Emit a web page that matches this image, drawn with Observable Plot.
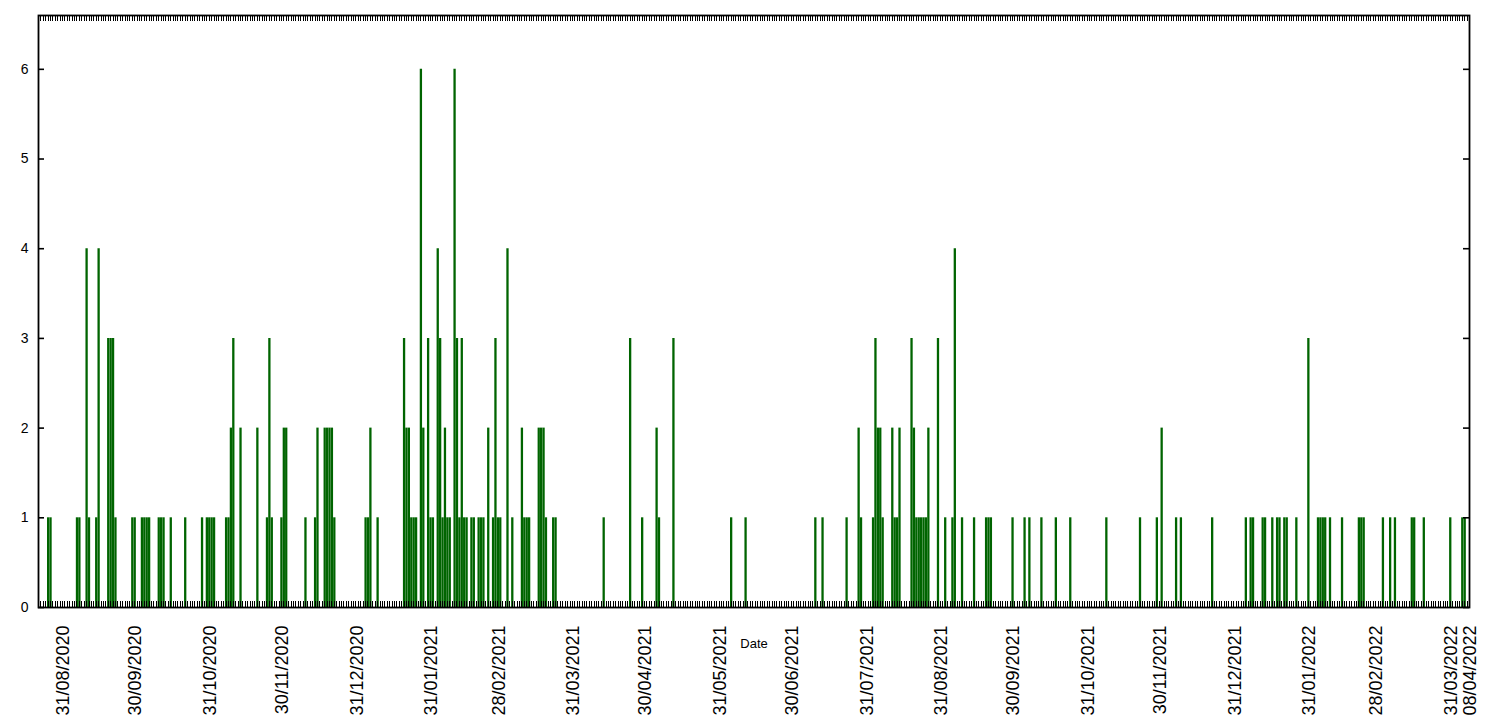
<!DOCTYPE html>
<html>
<head>
<meta charset="utf-8">
<script src="https://cdn.jsdelivr.net/npm/d3@7"></script>
<script src="https://cdn.jsdelivr.net/npm/@observablehq/plot@0.6"></script>
<style>
  html, body { margin: 0; padding: 0; background: #ffffff; }
  #chart svg { display: block; }
</style>
</head>
<body>
<div id="chart"></div>
<script>
// ---- data (daily counts; days not listed are zero) ----
const dates = [
  "2020-08-25","2020-08-26","2020-09-06","2020-09-07","2020-09-10","2020-09-11","2020-09-14","2020-09-15",
  "2020-09-19","2020-09-20","2020-09-21","2020-09-22","2020-09-29","2020-09-30","2020-10-03","2020-10-04",
  "2020-10-05","2020-10-06","2020-10-10","2020-10-11","2020-10-12","2020-10-15","2020-10-21","2020-10-28",
  "2020-10-30","2020-10-31","2020-11-01","2020-11-02","2020-11-07","2020-11-08","2020-11-09","2020-11-10",
  "2020-11-13","2020-11-20","2020-11-24","2020-11-25","2020-11-26","2020-11-30","2020-12-01","2020-12-02",
  "2020-12-10","2020-12-14","2020-12-15","2020-12-18","2020-12-19","2020-12-20","2020-12-21","2020-12-22",
  "2021-01-04","2021-01-05","2021-01-06","2021-01-09","2021-01-20","2021-01-21","2021-01-22","2021-01-23",
  "2021-01-24","2021-01-25","2021-01-27","2021-01-28","2021-01-30","2021-01-31","2021-02-01","2021-02-03",
  "2021-02-04","2021-02-05","2021-02-06","2021-02-07","2021-02-08","2021-02-10","2021-02-11","2021-02-12",
  "2021-02-13","2021-02-14","2021-02-15","2021-02-17","2021-02-18","2021-02-20","2021-02-21","2021-02-22",
  "2021-02-24","2021-02-26","2021-02-27","2021-02-28","2021-03-01","2021-03-04","2021-03-06","2021-03-10",
  "2021-03-11","2021-03-12","2021-03-13","2021-03-17","2021-03-18","2021-03-19","2021-03-20","2021-03-23",
  "2021-03-24","2021-04-13","2021-04-24","2021-04-29","2021-05-05","2021-05-06","2021-05-12","2021-06-05",
  "2021-06-11","2021-07-10","2021-07-13","2021-07-23","2021-07-28","2021-07-29","2021-08-03","2021-08-04",
  "2021-08-05","2021-08-06","2021-08-07","2021-08-11","2021-08-12","2021-08-13","2021-08-14","2021-08-19",
  "2021-08-20","2021-08-21","2021-08-22","2021-08-23","2021-08-24","2021-08-25","2021-08-26","2021-08-30",
  "2021-09-02","2021-09-05","2021-09-06","2021-09-09","2021-09-14","2021-09-19","2021-09-20","2021-09-21",
  "2021-09-30","2021-10-05","2021-10-07","2021-10-12","2021-10-18","2021-10-24","2021-11-08","2021-11-22",
  "2021-11-29","2021-12-01","2021-12-07","2021-12-09","2021-12-22","2022-01-05","2022-01-07","2022-01-08",
  "2022-01-12","2022-01-13","2022-01-16","2022-01-18","2022-01-19","2022-01-21","2022-01-22","2022-01-26",
  "2022-01-31","2022-02-04","2022-02-05","2022-02-06","2022-02-07","2022-02-09","2022-02-14","2022-02-21",
  "2022-02-22","2022-02-23","2022-03-03","2022-03-06","2022-03-08","2022-03-15","2022-03-16","2022-03-20",
  "2022-03-31","2022-04-05","2022-04-06"
];
const counts = [
  1,1,1,1,4,1,1,4,
  3,3,3,1,1,1,1,1,
  1,1,1,1,1,1,1,1,
  1,1,1,1,1,1,2,3,
  2,2,1,3,1,1,2,2,
  1,1,2,2,2,2,2,1,
  1,1,2,1,3,2,2,1,
  1,1,6,2,3,1,1,4,
  3,1,2,1,1,6,3,1,
  3,1,1,1,1,1,1,1,
  2,1,3,1,1,4,1,2,
  1,1,1,2,2,2,1,1,
  1,1,3,1,2,1,3,1,
  1,1,1,1,2,1,1,3,
  2,2,1,2,1,1,2,3,
  2,1,1,1,1,1,2,3,
  1,1,4,1,1,1,1,1,
  1,1,1,1,1,1,1,1,
  1,2,1,1,1,1,1,1,
  1,1,1,1,1,1,1,1,
  3,1,1,1,1,1,1,1,
  1,1,1,1,1,1,1,1,
  1,1,1
];
const xTickDates = [
  "2020-08-31","2020-09-30","2020-10-31","2020-11-30","2020-12-31","2021-01-31","2021-02-28",
  "2021-03-31","2021-04-30","2021-05-31","2021-06-30","2021-07-31","2021-08-31","2021-09-30",
  "2021-10-31","2021-11-30","2021-12-31","2022-01-31","2022-02-28","2022-03-31","2022-04-08"
];
const yTicks = [0, 1, 2, 3, 4, 5, 6];
const xStart = "2020-08-21";
const xEnd = "2022-04-08";
const yMax = 6.6;
const xLabel = "Date";

// ---- build ----
const parse = d3.utcParse("%Y-%m-%d");
const fmt = d3.utcFormat("%d/%m/%Y");
const data = dates.map((d, i) => ({date: parse(d), count: counts[i]}));
const allDays = d3.utcDay.range(parse(xStart), d3.utcDay.offset(parse(xEnd), 1));

const W = 1512, H = 720, mL = 38, mR = 43, mT = 15, mB = 113;
const innerW = W - mL - mR, innerH = H - mT - mB;
const tick = 6;

const chart = Plot.plot({
  width: W, height: H,
  marginLeft: mL, marginRight: mR, marginTop: mT, marginBottom: mB,
  style: {fontFamily: "'Liberation Sans', Arial, sans-serif", background: "#ffffff", color: "#000000"},
  x: {type: "utc", domain: [parse(xStart), parse(xEnd)]},
  y: {domain: [0, yMax]},
  marks: [
    Plot.ruleX(data, {x: "date", y1: 0, y2: "count", stroke: "#006400", strokeWidth: 2.3}),
    // daily minor ticks, bottom and top, pointing inward
    Plot.ruleX(allDays, {x: d => d, insetTop: innerH - tick, stroke: "#000", strokeWidth: 1, shapeRendering: "crispEdges"}),
    Plot.ruleX(allDays, {x: d => d, insetBottom: innerH - tick, stroke: "#000", strokeWidth: 1, shapeRendering: "crispEdges"}),
    // y ticks, left and right, pointing inward
    Plot.ruleY(yTicks, {y: d => d, insetRight: innerW - tick, stroke: "#000", strokeWidth: 1.6}),
    Plot.ruleY(yTicks, {y: d => d, insetLeft: innerW - tick, stroke: "#000", strokeWidth: 1.6}),
    Plot.frame({stroke: "#000", strokeWidth: 1.8}),
    Plot.axisY({ticks: yTicks, tickSize: 0, tickPadding: 10, fontSize: 14, label: null, tickFormat: d => String(d)}),
    Plot.axisX({
      ticks: xTickDates.map(parse), tickFormat: fmt, tickRotate: -90,
      textAnchor: "end", lineAnchor: "middle",
      tickSize: 0, tickPadding: 18, fontSize: 18, label: null, dx: 1
    }),
    Plot.text([xLabel], {frameAnchor: "bottom", dy: 36, fontSize: 13, lineAnchor: "middle", fill: "#000"})
  ]
});
document.getElementById("chart").appendChild(chart);
</script>
</body>
</html>
